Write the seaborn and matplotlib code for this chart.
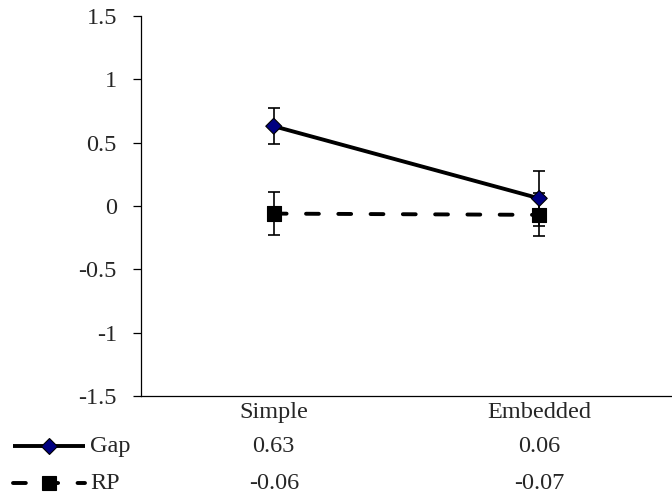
import matplotlib
matplotlib.use("Agg")
import matplotlib.pyplot as plt
from matplotlib.lines import Line2D
from matplotlib.transforms import blended_transform_factory
import numpy as np
import pandas as pd
import seaborn as sns

# Chart data
categories = ["Simple", "Embedded"]
series_names = ["Gap", "RP"]
gap_values = [0.63, 0.06]
rp_values = [-0.06, -0.07]
gap_errors = [0.14, 0.22]
rp_errors = [0.17, 0.17]
y_ticks = [-1.5, -1, -0.5, 0, 0.5, 1, 1.5]
y_tick_labels = ["-1.5", "-1", "-0.5", "0", "0.5", "1", "1.5"]

sns.set_theme(style="white")
plt.rcParams["font.family"] = ["Liberation Serif", "DejaVu Serif"]
FS = 17.5
plt.rcParams["font.size"] = FS

W, H = 672, 498
fig = plt.figure(figsize=(W / 100, H / 100), dpi=100)
ax = fig.add_axes([141 / W, 1 - 396 / H, 1 - 141 / W, (396 - 16) / H])

positions = list(range(len(categories)))
df = pd.DataFrame({
    "pos": positions * 2,
    "value": gap_values + rp_values,
    "err": gap_errors + rp_errors,
    "series": [series_names[0]] * 2 + [series_names[1]] * 2,
})

LW = 2.8
DASH = (3.3, 5.0)
line_dashes = {"Gap": "", "RP": DASH}
marker_shapes = {"Gap": "D", "RP": "s"}
marker_colors = {"Gap": "#000080", "RP": "black"}
marker_sizes = {"Gap": 66, "RP": 108}

# error bars
for name, sub in df.groupby("series"):
    ax.errorbar(sub["pos"], sub["value"], yerr=sub["err"], fmt="none",
                ecolor="black", elinewidth=1.2, capsize=4.3, capthick=1.2,
                zorder=2)

# connecting lines
sns.lineplot(data=df, x="pos", y="value", style="series", hue="series",
             palette={"Gap": "black", "RP": "black"}, dashes=line_dashes,
             linewidth=LW, legend=False, ax=ax, zorder=3,
             dash_capstyle="round", solid_capstyle="round")

# markers
sns.scatterplot(data=df, x="pos", y="value", hue="series", style="series",
                size="series", palette=marker_colors, markers=marker_shapes,
                sizes=marker_sizes, edgecolor="black", linewidth=0.8,
                legend=False, ax=ax, zorder=4)

ax.set_xlim(-0.5, len(categories) - 0.5)
ax.set_ylim(-1.5, 1.5)
ax.set_yticks(y_ticks)
ax.set_yticklabels(y_tick_labels)
ax.set_xticks(positions)
ax.set_xticklabels(categories)
ax.set_xlabel("")
ax.set_ylabel("")
ax.tick_params(axis="y", direction="out", length=5.8, width=0.9,
               color="black", pad=11.5, labelsize=FS, left=True)
ax.tick_params(axis="x", length=0, pad=4, labelsize=FS)
for side in ("top", "right"):
    ax.spines[side].set_visible(False)
for side in ("left", "bottom"):
    ax.spines[side].set_color("black")
    ax.spines[side].set_linewidth(0.9)
ax.grid(False)

# data table under the axis
row_y = {"Gap": 1 - 446 / H, "RP": 1 - 483 / H}
row_values = {"Gap": gap_values, "RP": rp_values}
trans = blended_transform_factory(ax.transData, fig.transFigure)
for name in series_names:
    y = row_y[name]
    for p, v in zip(positions, row_values[name]):
        ax.text(p, y, f"{v:.2f}", transform=trans, ha="center",
                va="center", fontsize=FS, clip_on=False)
    fig.text(90 / W, y, name, ha="left", va="center", fontsize=FS)
    x0, x1, xm = 13 / W, 85 / W, 49 / W
    key_line = Line2D([x0, x1], [y, y], transform=fig.transFigure,
                      color="black", linewidth=LW,
                      linestyle=(0, DASH) if line_dashes[name] else "-",
                      dash_capstyle="round", solid_capstyle="butt")
    fig.add_artist(key_line)
    key_marker = Line2D([xm], [y], transform=fig.transFigure,
                        marker=marker_shapes[name], linestyle="none",
                        markersize=np.sqrt(marker_sizes[name]),
                        markerfacecolor=marker_colors[name],
                        markeredgecolor="black", markeredgewidth=0.8)
    fig.add_artist(key_marker)

fig.savefig("out.png", dpi=100)
